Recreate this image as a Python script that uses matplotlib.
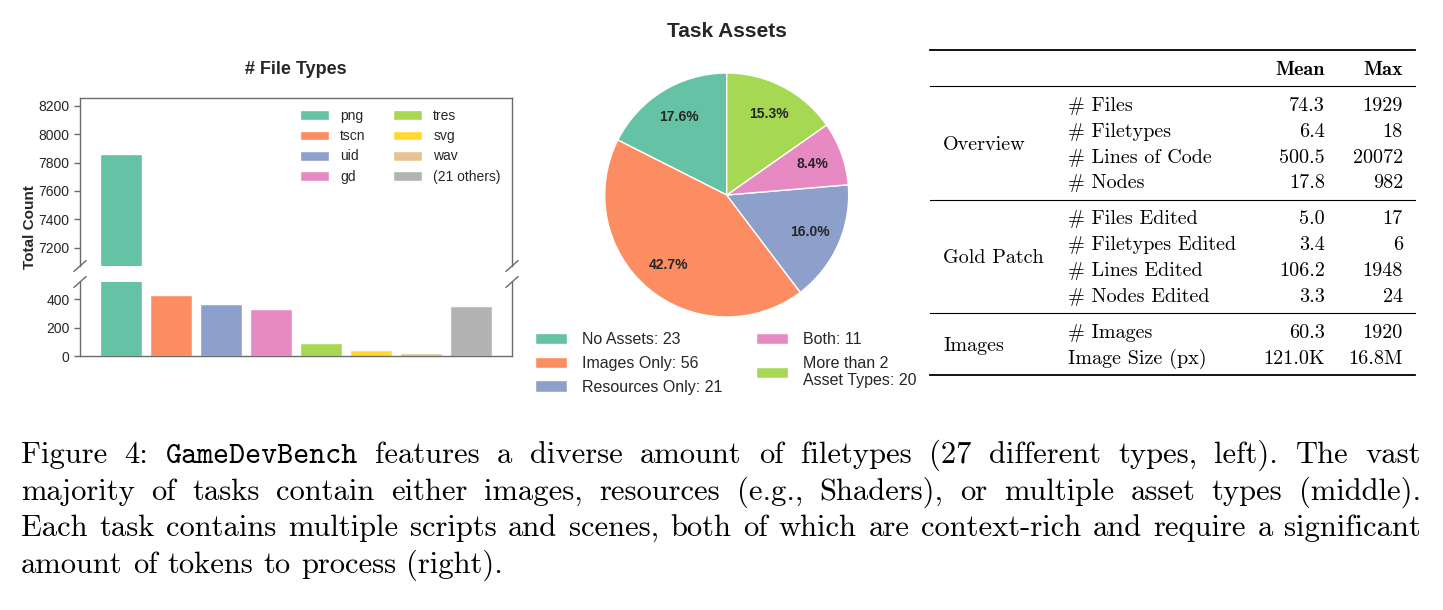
import numpy as np
import matplotlib
matplotlib.use('Agg')
import matplotlib.pyplot as plt
import matplotlib.patches as mpatches
from matplotlib.lines import Line2D

# ---------------- data ----------------
file_types = ['png', 'tscn', 'uid', 'gd', 'tres', 'svg', 'wav', '(21 others)']
file_counts = [7860, 428, 363, 332, 90, 40, 19, 351]

asset_names = ['No Assets', 'Images Only', 'Resources Only', 'Both', 'More than 2\nAsset Types']
asset_counts = [23, 56, 21, 11, 20]

groups = ['Overview', 'Gold Patch', 'Images']
group_sizes = [4, 4, 2]
metrics = ['# Files', '# Filetypes', '# Lines of Code', '# Nodes',
           '# Files Edited', '# Filetypes Edited', '# Lines Edited', '# Nodes Edited',
           '# Images', 'Image Size (px)']
means = ['74.3', '6.4', '500.5', '17.8', '5.0', '3.4', '106.2', '3.3', '60.3', '121.0K']
maxes = ['1929', '18', '20072', '982', '17', '6', '1948', '24', '1920', '16.8M']

caption_lines = [
    "Figure 4: GameDevBench features a diverse amount of filetypes (27 different types, left). The vast",
    "majority of tasks contain either images, resources (e.g., Shaders), or multiple asset types (middle).",
    "Each task contains multiple scripts and scenes, both of which are context-rich and require a significant",
    "amount of tokens to process (right).",
]
tt_words = ['GameDevBench']

# ---------------- style ----------------
W, H = 1443, 610
plt.rcParams['font.family'] = ['Liberation Sans', 'DejaVu Sans']
set2 = ['#66c2a5', '#fc8d62', '#8da0cb', '#e78ac3', '#a6d854', '#ffd92f', '#e5c494', '#b3b3b3']
spine_col = '#6b6b6b'
text_col = '#262626'

fig = plt.figure(figsize=(W / 100, H / 100), dpi=100)

def fx(x):
    return x / W

def fy(y):
    return 1 - y / H

# ---------------- broken bar chart ----------------
ax_top = fig.add_axes([fx(80), fy(266), (512 - 80) / W, (266 - 98) / H])
ax_bot = fig.add_axes([fx(80), fy(356), (512 - 80) / W, (356 - 282) / H])
xpos = np.arange(len(file_types))
for ax in (ax_top, ax_bot):
    ax.bar(xpos, file_counts, width=0.85, color=set2, edgecolor='white', linewidth=1)
    ax.set_xticks([])
    ax.set_xlim(-0.82, 7.82)
    for s in ax.spines.values():
        s.set_color(spine_col)
        s.set_linewidth(1.0)
    ax.tick_params(axis='y', colors=spine_col, labelcolor=text_col, labelsize=10, length=4, width=1)

ax_top.set_ylim(7070, 8255)
ax_top.set_yticks([7200, 7400, 7600, 7800, 8000, 8200])
ax_bot.set_ylim(0, 520)
ax_bot.set_yticks([0, 200, 400])
ax_top.spines['bottom'].set_visible(False)
ax_bot.spines['top'].set_visible(False)

# diagonal break marks
def brk(ax, yax, hpx):
    dx = 6 / 432
    dy = 5.3 / hpx
    for xa in (0, 1):
        ax.plot([xa - dx, xa + dx], [yax - dy, yax + dy], transform=ax.transAxes,
                color=spine_col, lw=1, clip_on=False)

brk(ax_top, 0, 168)
brk(ax_bot, 1, 74)

handles = [mpatches.Patch(facecolor=c, edgecolor='white', label=l) for c, l in zip(set2, file_types)]
ax_top.legend(handles=handles, ncol=2, loc='upper left', bbox_to_anchor=(fx(300), fy(109)),
              bbox_transform=fig.transFigure, frameon=False, fontsize=10, handlelength=2.08,
              handleheight=0.7, handletextpad=0.8, columnspacing=2.0, labelspacing=0.45,
              borderpad=0, borderaxespad=0, labelcolor=text_col)

fig.text(fx(296), fy(69), '# File Types', ha='center', va='center', fontsize=13,
         fontweight='bold', color=text_col)
fig.text(fx(30), fy(227), 'Total Count', ha='center', va='center', rotation=90, fontsize=11,
         fontweight='bold', color=text_col)

# ---------------- pie ----------------
ax_pie = fig.add_axes([fx(604.7), fy(317), 244 / W, 244 / H])
wedges, texts, autotexts = ax_pie.pie(asset_counts, colors=set2[:5], startangle=90,
                                      counterclock=True, autopct='%1.1f%%', pctdistance=0.75,
                                      wedgeprops=dict(edgecolor='white', linewidth=1))
for t in autotexts:
    t.set_fontsize(10)
    t.set_fontweight('bold')
    t.set_color(text_col)
ax_pie.set_xlim(-1, 1)
ax_pie.set_ylim(-1, 1)
ax_pie.set_aspect('equal')

fig.text(fx(726.7), fy(31.7), 'Task Assets', ha='center', va='center', fontsize=15,
         fontweight='bold', color=text_col)

pie_labels = [f'{n}: {c}' for n, c in zip(asset_names, asset_counts)]
fig.legend(handles=wedges, labels=pie_labels, ncol=2, loc='upper left',
           bbox_to_anchor=(fx(535), fy(332)), frameon=False, fontsize=11.5,
           handlelength=2.0, handleheight=0.7, handletextpad=0.95, columnspacing=2.1,
           labelspacing=0.55, borderpad=0, borderaxespad=0, labelcolor=text_col)

# ---------------- table ----------------
def rule(y, lw):
    fig.add_artist(Line2D([fx(930), fx(1415)], [fy(y), fy(y)], transform=fig.transFigure,
                          color='black', lw=lw))

TS = 14.5
rule(50, 1.3)
fig.text(fx(1325), fy(75), 'Mean', ha='right', va='baseline', fontsize=TS, family='cmb10')
fig.text(fx(1403), fy(75), 'Max', ha='right', va='baseline', fontsize=TS, family='cmb10')
rule(86, 0.8)

row = 0
y0 = 111
for g, (gname, gsize) in enumerate(zip(groups, group_sizes)):
    ys = []
    for k in range(gsize):
        y = y0 + row * 25.8 + g * 10.2
        ys.append(y)
        fig.text(fx(1068), fy(y), metrics[row], ha='left', va='baseline', fontsize=TS, family='cmr10')
        fig.text(fx(1325), fy(y), means[row], ha='right', va='baseline', fontsize=TS, family='cmr10')
        fig.text(fx(1403), fy(y), maxes[row], ha='right', va='baseline', fontsize=TS, family='cmr10')
        row += 1
    fig.text(fx(943), fy(np.mean(ys)), gname, ha='left', va='baseline', fontsize=TS, family='cmr10')
    last = g == len(groups) - 1
    rule(ys[-1] + 11.5, 1.3 if last else 0.8)

# ---------------- caption (justified) ----------------
renderer = fig.canvas.get_renderer()
CS = 22
x_left, x_right = 21, 1421
for i, line in enumerate(caption_lines):
    y = 463 + i * 36.6
    objs = []
    for w in line.split(' '):
        fam = 'cmtt10' if w in tt_words else 'cmr10'
        objs.append(fig.text(0, fy(y), w, ha='left', va='baseline', fontsize=CS, family=fam))
    widths = [o.get_window_extent(renderer).width for o in objs]
    if i < len(caption_lines) - 1:
        gap = (x_right - x_left - sum(widths)) / (len(objs) - 1)
    else:
        gap = 0.333 * CS * 100 / 72
    xc = x_left
    for o, wd in zip(objs, widths):
        o.set_x(fx(xc))
        xc += wd + gap

fig.savefig('out.png', dpi=100)
